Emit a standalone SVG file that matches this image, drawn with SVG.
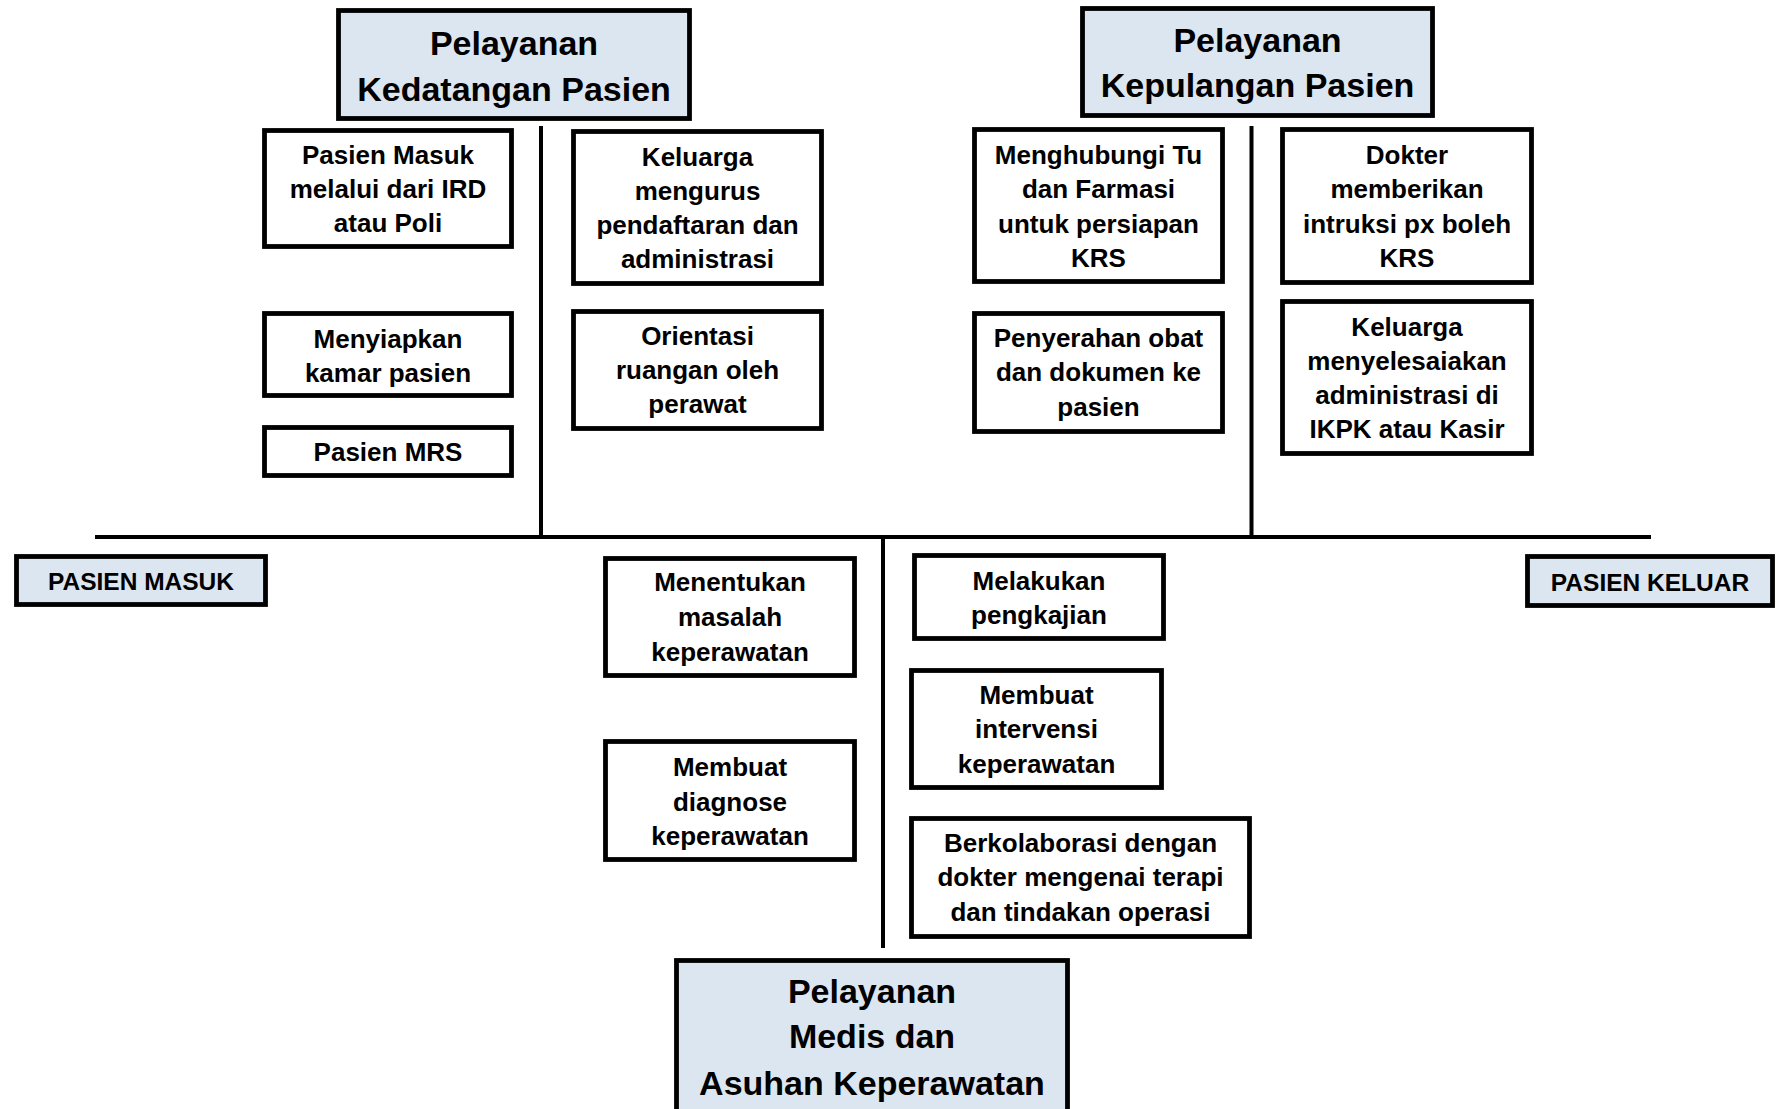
<svg xmlns="http://www.w3.org/2000/svg" width="1776" height="1109" viewBox="0 0 1776 1109">
<style>
.box{fill:#ffffff;stroke:#000000;stroke-width:4.8}
.hdr{fill:#dce6f1;stroke:#000000;stroke-width:4.8}
.t{font-family:"Liberation Sans",Arial,sans-serif;font-weight:bold;font-size:26px;fill:#000;text-anchor:middle}
.th{font-family:"Liberation Sans",Arial,sans-serif;font-weight:bold;font-size:34px;fill:#000;text-anchor:middle}
.tc{font-family:"Liberation Sans",Arial,sans-serif;font-weight:bold;font-size:24.5px;fill:#000;text-anchor:middle}
.ln{stroke:#000000;stroke-width:4;fill:none}
</style>
<rect width="1776" height="1109" fill="#ffffff"/>
<g id="connectors">
<line class="ln" x1="95" y1="537" x2="1651" y2="537"/>
<line class="ln" x1="541" y1="126" x2="541" y2="537"/>
<line class="ln" x1="1251.5" y1="126" x2="1251.5" y2="537"/>
<line class="ln" x1="883" y1="537" x2="883" y2="948"/>
</g>
<g id="hdr-kedatangan">
<rect class="hdr" x="338.5" y="10.5" width="351" height="108"/>
<text class="th" x="514" y="55">Pelayanan</text>
<text class="th" x="514" y="101">Kedatangan Pasien</text>
</g>
<g id="hdr-kepulangan">
<rect class="hdr" x="1082.5" y="8.5" width="350" height="107"/>
<text class="th" x="1257.5" y="52">Pelayanan</text>
<text class="th" x="1257.5" y="97">Kepulangan Pasien</text>
</g>
<g id="hdr-medis">
<rect class="hdr" x="676.5" y="960.5" width="391" height="160"/>
<text class="th" x="872" y="1003">Pelayanan</text>
<text class="th" x="872" y="1048">Medis dan</text>
<text class="th" x="872" y="1095">Asuhan Keperawatan</text>
</g>
<g id="pasien-masuk">
<rect class="hdr" x="16.5" y="556.5" width="249" height="48"/>
<text class="tc" x="141" y="590">PASIEN MASUK</text>
</g>
<g id="pasien-keluar">
<rect class="hdr" x="1527.5" y="556.5" width="245" height="49"/>
<text class="tc" x="1650" y="591">PASIEN KELUAR</text>
</g>
<g id="box-pasien-masuk-ird">
<rect class="box" x="264.5" y="130.5" width="247" height="116"/>
<text class="t" x="388" y="164">Pasien Masuk</text>
<text class="t" x="388" y="198">melalui dari IRD</text>
<text class="t" x="388" y="232">atau Poli</text>
</g>
<g id="box-menyiapkan-kamar">
<rect class="box" x="264.5" y="313.5" width="247" height="82"/>
<text class="t" x="388" y="348">Menyiapkan</text>
<text class="t" x="388" y="382">kamar pasien</text>
</g>
<g id="box-pasien-mrs">
<rect class="box" x="264.5" y="427.5" width="247" height="48"/>
<text class="t" x="388" y="461">Pasien MRS</text>
</g>
<g id="box-keluarga-mengurus">
<rect class="box" x="573.5" y="131.5" width="248" height="152"/>
<text class="t" x="697.5" y="166">Keluarga</text>
<text class="t" x="697.5" y="200">mengurus</text>
<text class="t" x="697.5" y="234">pendaftaran dan</text>
<text class="t" x="697.5" y="268">administrasi</text>
</g>
<g id="box-orientasi">
<rect class="box" x="573.5" y="311.5" width="248" height="117"/>
<text class="t" x="697.5" y="345">Orientasi</text>
<text class="t" x="697.5" y="379">ruangan oleh</text>
<text class="t" x="697.5" y="413">perawat</text>
</g>
<g id="box-menghubungi">
<rect class="box" x="974.5" y="129.5" width="248" height="152"/>
<text class="t" x="1098.5" y="164">Menghubungi Tu</text>
<text class="t" x="1098.5" y="198">dan Farmasi</text>
<text class="t" x="1098.5" y="233">untuk persiapan</text>
<text class="t" x="1098.5" y="267">KRS</text>
</g>
<g id="box-penyerahan">
<rect class="box" x="974.5" y="313.5" width="248" height="118"/>
<text class="t" x="1098.5" y="347">Penyerahan obat</text>
<text class="t" x="1098.5" y="381">dan dokumen ke</text>
<text class="t" x="1098.5" y="416">pasien</text>
</g>
<g id="box-dokter">
<rect class="box" x="1282.5" y="129.5" width="249" height="153"/>
<text class="t" x="1407" y="164">Dokter</text>
<text class="t" x="1407" y="198">memberikan</text>
<text class="t" x="1407" y="233">intruksi px boleh</text>
<text class="t" x="1407" y="267">KRS</text>
</g>
<g id="box-keluarga-admin">
<rect class="box" x="1282.5" y="301.5" width="249" height="152"/>
<text class="t" x="1407" y="336">Keluarga</text>
<text class="t" x="1407" y="370">menyelesaiakan</text>
<text class="t" x="1407" y="404">administrasi di</text>
<text class="t" x="1407" y="438">IKPK atau Kasir</text>
</g>
<g id="box-menentukan">
<rect class="box" x="605.5" y="558.5" width="249" height="117"/>
<text class="t" x="730" y="591">Menentukan</text>
<text class="t" x="730" y="626">masalah</text>
<text class="t" x="730" y="661">keperawatan</text>
</g>
<g id="box-diagnose">
<rect class="box" x="605.5" y="741.5" width="249" height="118"/>
<text class="t" x="730" y="776">Membuat</text>
<text class="t" x="730" y="811">diagnose</text>
<text class="t" x="730" y="845">keperawatan</text>
</g>
<g id="box-pengkajian">
<rect class="box" x="914.5" y="555.5" width="249" height="83"/>
<text class="t" x="1039" y="590">Melakukan</text>
<text class="t" x="1039" y="624">pengkajian</text>
</g>
<g id="box-intervensi">
<rect class="box" x="911.5" y="670.5" width="250" height="117"/>
<text class="t" x="1036.5" y="704">Membuat</text>
<text class="t" x="1036.5" y="738">intervensi</text>
<text class="t" x="1036.5" y="773">keperawatan</text>
</g>
<g id="box-kolaborasi">
<rect class="box" x="911.5" y="818.5" width="338" height="118"/>
<text class="t" x="1080.5" y="852">Berkolaborasi dengan</text>
<text class="t" x="1080.5" y="886">dokter mengenai terapi</text>
<text class="t" x="1080.5" y="921">dan tindakan operasi</text>
</g>
</svg>
